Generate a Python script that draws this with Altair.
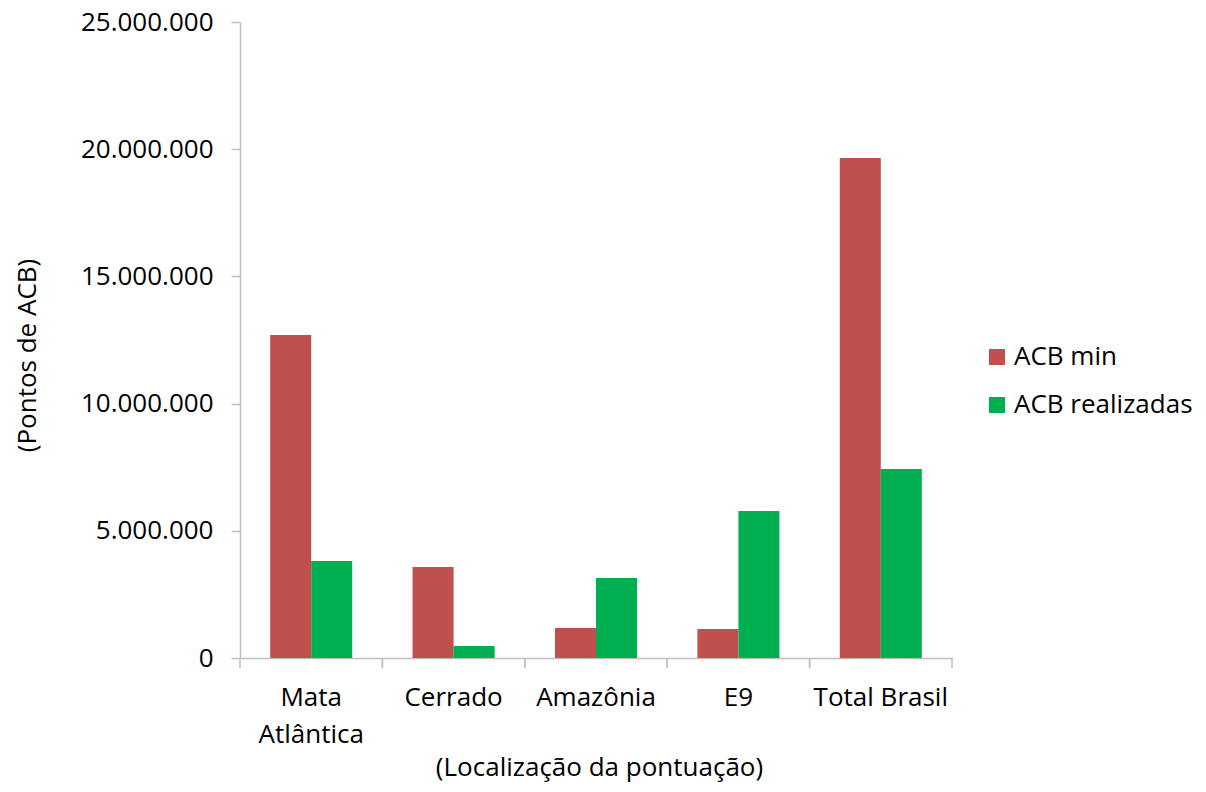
import altair as alt
import pandas as pd

# Pontos de ACB por bioma
categorias = ["Mata Atlântica", "Cerrado", "Amazônia", "E9", "Total Brasil"]
series = ["ACB min", "ACB realizadas"]
acb_min = [12700000, 3580000, 1180000, 1140000, 19650000]
acb_realizadas = [3810000, 470000, 3140000, 5780000, 7430000]
cores = ["#C0504D", "#00B050"]
y_ticks = [0, 5000000, 10000000, 15000000, 20000000, 25000000]

rows = []
for i, cat in enumerate(categorias):
    rows.append({"local": cat, "serie": series[0], "pontos": acb_min[i]})
    rows.append({"local": cat, "serie": series[1], "pontos": acb_realizadas[i]})
df = pd.DataFrame(rows)
cats_df = pd.DataFrame({"local": categorias})

FONT = "Open Sans"
GRAY = "#BFBFBF"
W, H = 712, 636

x_scale = alt.Scale(domain=categorias, paddingInner=0.424, paddingOuter=0.212)

bars = alt.Chart(df).mark_bar().encode(
    x=alt.X(
        "local:N",
        scale=x_scale,
        sort=categorias,
        axis=alt.Axis(
            title="(Localização da pontuação)",
            labelAngle=0,
            ticks=False,
            labelPadding=26,
            labelLineHeight=37,
            labelExpr="datum.label == 'Mata Atlântica' ? ['Mata', 'Atlântica'] : datum.label",
            titleY=96,
            titleX=359,
        ),
    ),
    xOffset=alt.XOffset("serie:N", sort=series),
    y=alt.Y(
        "pontos:Q",
        scale=alt.Scale(domain=[0, 25000000], nice=False),
        axis=alt.Axis(
            title="(Pontos de ACB)",
            values=y_ticks,
            labelExpr="replace(format(datum.value, ','), /,/g, '.')",
            labelPadding=18,
            tickSize=9,
            grid=False,
            titleX=-200,
            titleY=333,
        ),
    ),
    color=alt.Color(
        "serie:N",
        sort=series,
        scale=alt.Scale(domain=series, range=cores),
        legend=alt.Legend(
            title=None,
            orient="none",
            legendX=744,
            legendY=322,
            symbolType="square",
            symbolSize=256,
            symbolStrokeWidth=0,
            labelFontSize=26,
            labelFont=FONT,
            labelColor="#000000",
            labelLimit=0,
            rowPadding=22,
            labelOffset=4,
        ),
    ),
)

# category separator ticks on the x axis
tick_start = alt.Chart(cats_df).mark_rule(
    color=GRAY, strokeWidth=1.5, xOffset=-30.2
).encode(
    x=alt.X("local:N", scale=x_scale, sort=categorias, bandPosition=0),
    y=alt.value(H),
    y2=alt.value(H + 10),
)
tick_end = alt.Chart(cats_df).mark_rule(
    color=GRAY, strokeWidth=1.5, xOffset=30.2
).encode(
    x=alt.X("local:N", scale=x_scale, sort=categorias, bandPosition=1),
    y=alt.value(H),
    y2=alt.value(H + 10),
)

chart = (
    alt.layer(bars, tick_start, tick_end)
    .properties(
        width=W,
        height=H,
        background="white",
        autosize=alt.AutoSizeParams(type="none"),
        padding={"left": 240, "top": 22, "right": 254, "bottom": 134},
    )
    .configure_view(stroke=None)
    .configure_axis(
        labelFont=FONT,
        titleFont=FONT,
        labelFontSize=26,
        titleFontSize=26,
        labelColor="#000000",
        titleColor="#000000",
        titleFontWeight="normal",
        domainColor=GRAY,
        domainWidth=1.5,
        tickColor=GRAY,
        tickWidth=1.5,
    )
)

chart.save("out.html", embed_options={"renderer": "svg", "actions": False})
